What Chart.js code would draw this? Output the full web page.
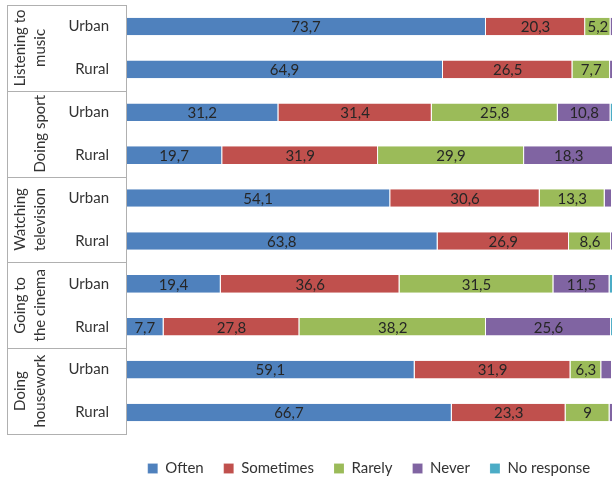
<!DOCTYPE html>
<html lang="en">
<head>
<meta charset="UTF-8" />
<title>Leisure activities: urban vs rural</title>
<script src="https://cdn.jsdelivr.net/npm/chart.js"></script>
<style>
  html, body { margin: 0; padding: 0; background: #fff; overflow: hidden; }
  canvas { display: block; }
</style>
</head>
<body>
<canvas id="chart" width="612" height="486"></canvas>
<script>
// activity groups (wrapped lines of the rotated label), two rows each
const groups = [
  ["Listening to", "music"],
  ["Doing sport"],
  ["Watching", "television"],
  ["Going to", "the cinema"],
  ["Doing", "housework"]
];
const areas = ["Urban", "Rural", "Urban", "Rural", "Urban", "Rural", "Urban", "Rural", "Urban", "Rural"];

// percentages, one value per row (top to bottom)
const often      = [73.7, 64.9, 31.2, 19.7, 54.1, 63.8, 19.4, 7.7, 59.1, 66.7];
const sometimes  = [20.3, 26.5, 31.4, 31.9, 30.6, 26.9, 36.6, 27.8, 31.9, 23.3];
const rarely     = [5.2, 7.7, 25.8, 29.9, 13.3, 8.6, 31.5, 38.2, 6.3, 9];
const never      = [0.6, 0.8, 10.8, 18.3, 1.5, 0.5, 11.5, 25.6, 2.2, 0.8];
const noResponse = [0.2, 0.1, 0.8, 0.2, 0.5, 0.2, 1.0, 0.7, 0.5, 0.2];

const seriesNames = ["Often", "Sometimes", "Rarely", "Never", "No response"];
const seriesData = [often, sometimes, rarely, never, noResponse];
const seriesColors = ["#4F81BD", "#C0504D", "#9BBB59", "#8064A2", "#4BACC6"];

Chart.defaults.font.family = "Lato, 'Open Sans', sans-serif";
Chart.defaults.font.size = 15;
Chart.defaults.color = "#333";

// numbers inside the segments, comma as decimal mark
const valueLabels = {
  id: "valueLabels",
  afterDatasetsDraw(chart) {
    const { ctx, chartArea } = chart;
    ctx.save();
    ctx.font = "15px Lato, sans-serif";
    ctx.fillStyle = "#262626";
    ctx.textAlign = "center";
    ctx.textBaseline = "middle";
    chart.data.datasets.forEach((ds, d) => {
      chart.getDatasetMeta(d).data.forEach((bar, i) => {
        const v = ds.data[i];
        if (v < 5) return;
        const cx = (bar.x + bar.base) / 2;
        if (cx > chartArea.right) return;
        ctx.fillText(String(v).replace(".", ","), cx, bar.y + 1);
      });
    });
    ctx.restore();
  }
};

// the little table on the left: borders + rotated group names
const sideTable = {
  id: "sideTable",
  afterDraw(chart) {
    const { ctx, chartArea } = chart;
    const y = chart.scales.y;
    const step = y.getPixelForValue(1) - y.getPixelForValue(0);
    const left = 7;
    ctx.save();
    ctx.strokeStyle = "#b0b0b0";
    ctx.lineWidth = 1;
    ctx.beginPath();
    ctx.moveTo(left + 0.5, chartArea.top);
    ctx.lineTo(left + 0.5, chartArea.bottom + 1);
    ctx.moveTo(chartArea.left + 0.5, chartArea.top);
    ctx.lineTo(chartArea.left + 0.5, chartArea.bottom + 1);
    for (let g = 0; g <= groups.length; g++) {
      const yy = Math.round(chartArea.top + g * 2 * step) + 0.5;
      ctx.moveTo(left, yy);
      ctx.lineTo(chartArea.left + 1, yy);
    }
    ctx.stroke();

    ctx.fillStyle = "#333";
    ctx.font = "15px Lato, sans-serif";
    ctx.textAlign = "center";
    ctx.textBaseline = "middle";
    groups.forEach((lines, g) => {
      const cy = chartArea.top + (g * 2 + 1) * step;
      lines.forEach((line, k) => {
        const cx = 40 - (lines.length - 1 - k) * 20;
        ctx.save();
        ctx.translate(cx, cy);
        ctx.rotate(-Math.PI / 2);
        ctx.fillText(line, 0, 0);
        ctx.restore();
      });
    });
    ctx.restore();
  }
};

new Chart(document.getElementById("chart"), {
  type: "bar",
  data: {
    labels: areas,
    datasets: seriesNames.map((name, i) => ({
      label: name,
      data: seriesData[i],
      backgroundColor: seriesColors[i],
      borderColor: "rgba(255,255,255,0.6)",
      borderWidth: { top: 0, bottom: 0, left: 0, right: 1 },
      borderSkipped: false,
      barPercentage: 0.41,
      categoryPercentage: 1
    }))
  },
  options: {
    indexAxis: "y",
    responsive: false,
    animation: false,
    layout: { padding: { top: 5, left: 0, right: 0, bottom: 0 } },
    scales: {
      x: {
        stacked: true,
        min: 0,
        max: 99.5,
        ticks: { display: false },
        grid: { display: false },
        border: { display: false },
        afterFit: (scale) => { scale.height = 7; }
      },
      y: {
        stacked: true,
        grid: { display: false, drawTicks: false },
        border: { display: false },
        ticks: { padding: 17, color: "#333", font: { size: 15 } },
        afterFit: (scale) => {
          scale.width = 126;
          scale.paddingTop = 0;
          scale.paddingBottom = 0;
        }
      }
    },
    plugins: {
      tooltip: { enabled: false },
      legend: {
        position: "bottom",
        fullSize: false,
        labels: {
          boxWidth: 10,
          boxHeight: 10,
          padding: 20,
          color: "#333",
          font: { size: 15 }
        }
      }
    }
  },
  plugins: [valueLabels, sideTable]
});
</script>
</body>
</html>
